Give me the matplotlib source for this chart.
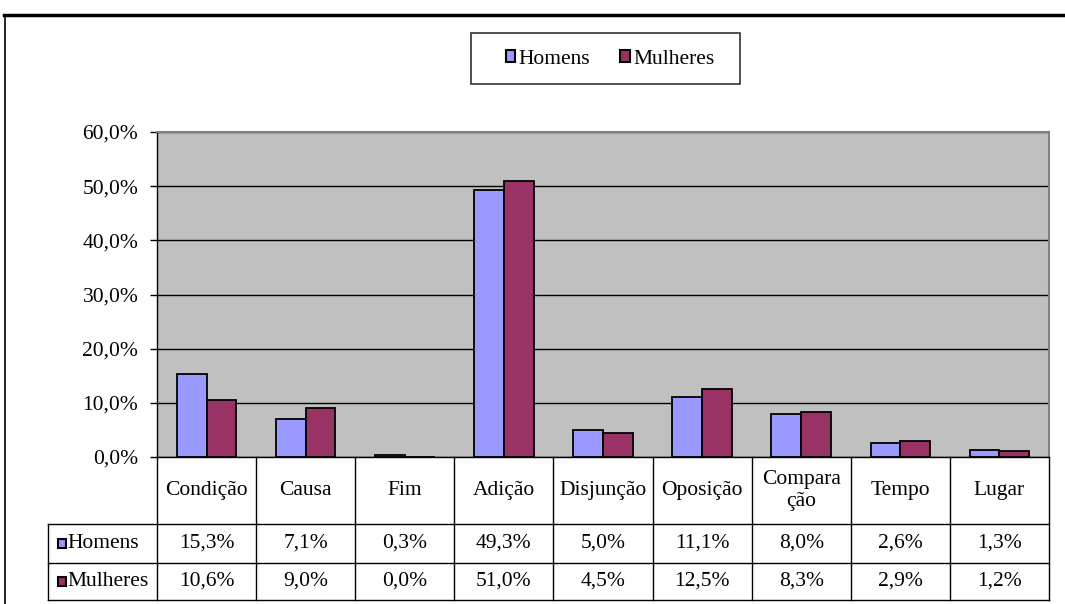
import matplotlib.pyplot as plt
import matplotlib.patches as mpatches
from matplotlib.lines import Line2D
import numpy as np

categories = ["Condição", "Causa", "Fim", "Adição", "Disjunção", "Oposição",
              "Compara\nção", "Tempo", "Lugar"]
homens = [15.3, 7.1, 0.3, 49.3, 5.0, 11.1, 8.0, 2.6, 1.3]
mulheres = [10.6, 9.0, 0.0, 51.0, 4.5, 12.5, 8.3, 2.9, 1.2]
series_names = ["Homens", "Mulheres"]
yticks = [0, 10, 20, 30, 40, 50, 60]

C_H = "#9999FF"
C_M = "#993366"
FS = 15.5
W, H = 1065, 604

plt.rcParams["font.family"] = "Liberation Serif"

fig = plt.figure(figsize=(W / 100, H / 100), dpi=100)


def fx(x):
    return x / W


def fy(y):
    return 1 - y / H


def hline(x0, x1, y, lw=1.0, color="black"):
    fig.add_artist(Line2D([fx(x0), fx(x1)], [fy(y), fy(y)], color=color, lw=lw,
                          transform=fig.transFigure))


def vline(x, y0, y1, lw=1.0, color="black"):
    fig.add_artist(Line2D([fx(x), fx(x)], [fy(y0), fy(y1)], color=color, lw=lw,
                          transform=fig.transFigure))


# plot area
L, R, T, B = 157, 1049, 132, 457
ax = fig.add_axes([fx(L), fy(B), fx(R) - fx(L), fy(T) - fy(B)])
ax.set_facecolor("#C0C0C0")

n = len(categories)
x = np.arange(n)
bw = 0.3
ax.bar(x - bw / 2, homens, bw, color=C_H, edgecolor="black", linewidth=1.3, zorder=3)
ax.bar(x + bw / 2, mulheres, bw, color=C_M, edgecolor="black", linewidth=1.3, zorder=3)

ax.set_xlim(-0.5, n - 0.5)
ax.set_ylim(0, 60)
ax.set_yticks(yticks)
ax.set_yticklabels([f"{v:.1f}%".replace(".", ",") for v in yticks], fontsize=FS)
ax.set_xticks([])
ax.yaxis.grid(True, color="black", linewidth=1.0, zorder=1)
ax.set_axisbelow(True)
ax.tick_params(axis="y", length=5, width=1, direction="out", pad=8.5)
for s in ["top", "right"]:
    ax.spines[s].set_color("#808080")
    ax.spines[s].set_linewidth(1.5)
ax.spines["left"].set_linewidth(1.0)
ax.spines["bottom"].set_linewidth(1.0)

# data table
col_w = (R - L) / n
r0, r1, r2, r3 = B, 524, 563, 600
for i in range(n + 1):
    vline(L + i * col_w, r0, r3)
vline(48, r1, r3)
hline(48, R, r1)
hline(48, R, r2)
hline(48, R, r3)

for i, cat in enumerate(categories):
    cx = L + (i + 0.5) * col_w
    fig.text(fx(cx), fy((r0 + r1) / 2), cat, ha="center", va="center",
             fontsize=FS, linespacing=1.2)
    fig.text(fx(cx), fy((r1 + r2) / 2), f"{homens[i]:.1f}%".replace(".", ","),
             ha="center", va="center", fontsize=FS)
    fig.text(fx(cx), fy((r2 + r3) / 2), f"{mulheres[i]:.1f}%".replace(".", ","),
             ha="center", va="center", fontsize=FS)

for (ya, yb), name, col in zip([(r1, r2), (r2, r3)], series_names, [C_H, C_M]):
    yc = (ya + yb) / 2
    fig.add_artist(mpatches.Rectangle((fx(58), fy(yc + 4.5)), fx(8), 9 / H,
                                      facecolor=col, edgecolor="black", lw=1.5,
                                      transform=fig.transFigure))
    fig.text(fx(67), fy(yc), name, ha="left", va="center", fontsize=FS)

# legend
fig.add_artist(mpatches.Rectangle((fx(471), fy(84)), fx(740 - 471), (84 - 33) / H,
                                  facecolor="white", edgecolor="#333333", lw=1.2,
                                  transform=fig.transFigure))
handles = [mpatches.Patch(facecolor=c, edgecolor="black", lw=1.5, label=nm)
           for c, nm in zip([C_H, C_M], series_names)]
fig.legend(handles=handles, loc="center", bbox_to_anchor=(fx(610), fy(59)), ncol=2,
           frameon=False, fontsize=FS, handlelength=0.45, handleheight=0.45,
           handletextpad=0.15, columnspacing=1.4)

# outer frame
hline(4, W, 15, lw=2.5)
vline(5, 15, H, lw=1.2)

fig.savefig("out.png", dpi=100)
